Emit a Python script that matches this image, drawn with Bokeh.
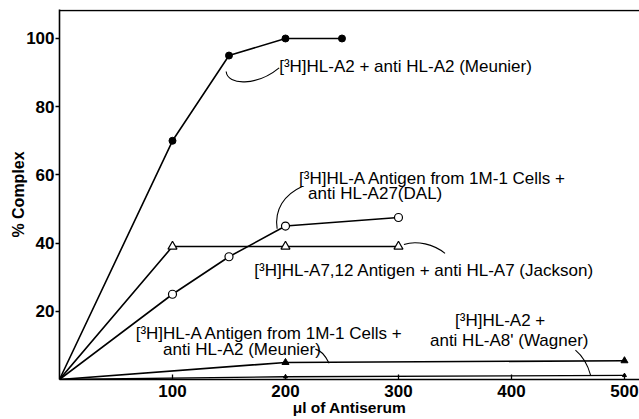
from bokeh.plotting import figure
from bokeh.models import FixedTicker, Span
from bokeh.core.properties import value
from bokeh.embed import file_html
from bokeh.resources import INLINE

# ---- data ----
meunier_x = [0, 100, 150, 200, 250]
meunier_y = [0, 70, 95, 100, 100]

dal_x = [0, 100, 150, 200, 300]
dal_y = [0, 25, 36, 45, 47.5]

jackson_x = [0, 100, 200, 300]
jackson_y = [0, 39, 39, 39]

cells_a2_x = [0, 200, 500]
cells_a2_y = [0, 5, 5.5]

wagner_x = [0, 200, 500]
wagner_y = [0, 0.8, 1.2]

x_ticks = [100, 200, 300, 400, 500]
y_ticks = [20, 40, 60, 80, 100]

# annotation texts (left-anchored)
label_texts = [
    "[³H]HL-A2 + anti HL-A2 (Meunier)",
    "[³H]HL-A Antigen from 1M-1 Cells +",
    "anti HL-A27(DAL)",
    "[³H]HL-A7,12 Antigen + anti HL-A7 (Jackson)",
    "[³H]HL-A Antigen from 1M-1 Cells +",
    "anti HL-A2 (Meunier)",
]
label_x = [194.4, 212, 220, 172.4, 67.4, 91.7]
label_y = [91.7, 59.0, 54.4, 32.0, 13.6, 8.9]

# centred annotation (Wagner)
wag_texts = ["[³H]HL-A2 +", "anti HL-A8' (Wagner)"]
wag_x = [390, 398]
wag_y = [17.4, 11.5]

# leader curves (start, control1, control2, end) in data units
lead_x0 = [147.5, 192.6, 304.8, 226.4, 456.6]
lead_y0 = [90.3, 44.2, 39.6, 8.9, 8.6]
lead_cx0 = [148.5, 190.0, 316.3, 230.8, 462.8]
lead_cy0 = [86.1, 49.8, 40.9, 8.6, 6.9]
lead_cx1 = [175.0, 198.8, 331.3, 234.2, 467.3]
lead_cy1 = [86.1, 54.2, 39.6, 7.7, 4.5]
lead_x1 = [194.4, 214.7, 341.2, 238.6, 470.0]
lead_y1 = [91.4, 56.6, 37.0, 4.8, 1.3]

X_MAX = 513.3
Y_MAX = 108.5
TOP_LINE = 108.2

FONT = "Liberation Sans"

p = figure(width=639, height=419, x_range=(0, X_MAX), y_range=(0, Y_MAX),
           output_backend="svg", toolbar_location=None,
           min_border_top=9, min_border_right=0, min_border_left=59,
           min_border_bottom=40)
p.outline_line_color = None
p.xgrid.visible = False
p.ygrid.visible = False
p.background_fill_color = "white"
p.border_fill_color = "white"

# axes
p.xaxis.ticker = FixedTicker(ticks=x_ticks)
p.yaxis.ticker = FixedTicker(ticks=y_ticks)
for ax in (p.xaxis[0], p.yaxis[0]):
    ax.axis_line_color = "black"
    ax.axis_line_width = 1.6
    ax.major_tick_line_color = "black"
    ax.major_tick_line_width = 1.3
    ax.minor_tick_line_color = None
    ax.major_label_text_font = FONT
    ax.major_label_text_font_style = "bold"
    ax.major_label_text_font_size = "17px"
    ax.major_label_text_color = "black"
    ax.axis_label_text_font = FONT
    ax.axis_label_text_font_style = "bold"
    ax.axis_label_text_color = "black"

p.xaxis.axis_label = "μl of Antiserum"
p.xaxis.axis_label_text_font_size = "15.5px"
p.xaxis.major_tick_in = 5
p.xaxis.major_tick_out = 0
p.xaxis.major_label_standoff = 5
p.xaxis.axis_label_standoff = -1

p.yaxis.axis_label = "% Complex"
p.yaxis.axis_label_text_font_size = "16px"
p.yaxis.major_tick_in = 0
p.yaxis.major_tick_out = 4
p.yaxis.major_label_standoff = 1
p.yaxis.axis_label_standoff = -4

# top border
p.add_layout(Span(location=TOP_LINE, dimension="width", line_color="black", line_width=1.5))

LW = 1.6
# series lines
p.line(meunier_x, meunier_y, line_color="black", line_width=LW)
p.line(dal_x, dal_y, line_color="black", line_width=LW)
p.line(jackson_x, jackson_y, line_color="black", line_width=LW)
p.line(cells_a2_x, cells_a2_y, line_color="black", line_width=LW)
p.line(wagner_x, wagner_y, line_color="black", line_width=1.3)

# markers (no marker at origin)
p.scatter(meunier_x[1:], meunier_y[1:], marker="circle", size=7,
          fill_color="black", line_color="black")
p.scatter(dal_x[1:], dal_y[1:], marker="circle", size=8,
          fill_color="white", line_color="black", line_width=1.2)
p.scatter(jackson_x[1:], jackson_y[1:], marker="triangle", size=9,
          fill_color="white", line_color="black", line_width=1.2)
p.scatter(cells_a2_x[1:], cells_a2_y[1:], marker="triangle", size=7,
          fill_color="black", line_color="black")
p.scatter(wagner_x[1:], wagner_y[1:], marker="triangle", size=4,
          fill_color="black", line_color="black")

# leader curves
p.bezier(x0=lead_x0, y0=lead_y0, x1=lead_x1, y1=lead_y1,
         cx0=lead_cx0, cy0=lead_cy0, cx1=lead_cx1, cy1=lead_cy1,
         line_color="black", line_width=1.1)

# annotation texts
p.text(x=label_x, y=label_y, text=label_texts, text_font=value(FONT),
       text_font_size="17px", text_align="left", text_baseline="middle",
       text_color="black")
p.text(x=wag_x, y=wag_y, text=wag_texts, text_font=value(FONT),
       text_font_size="17px", text_align="center", text_baseline="middle",
       text_color="black")

open("out.html", "w").write(file_html(p, INLINE))
